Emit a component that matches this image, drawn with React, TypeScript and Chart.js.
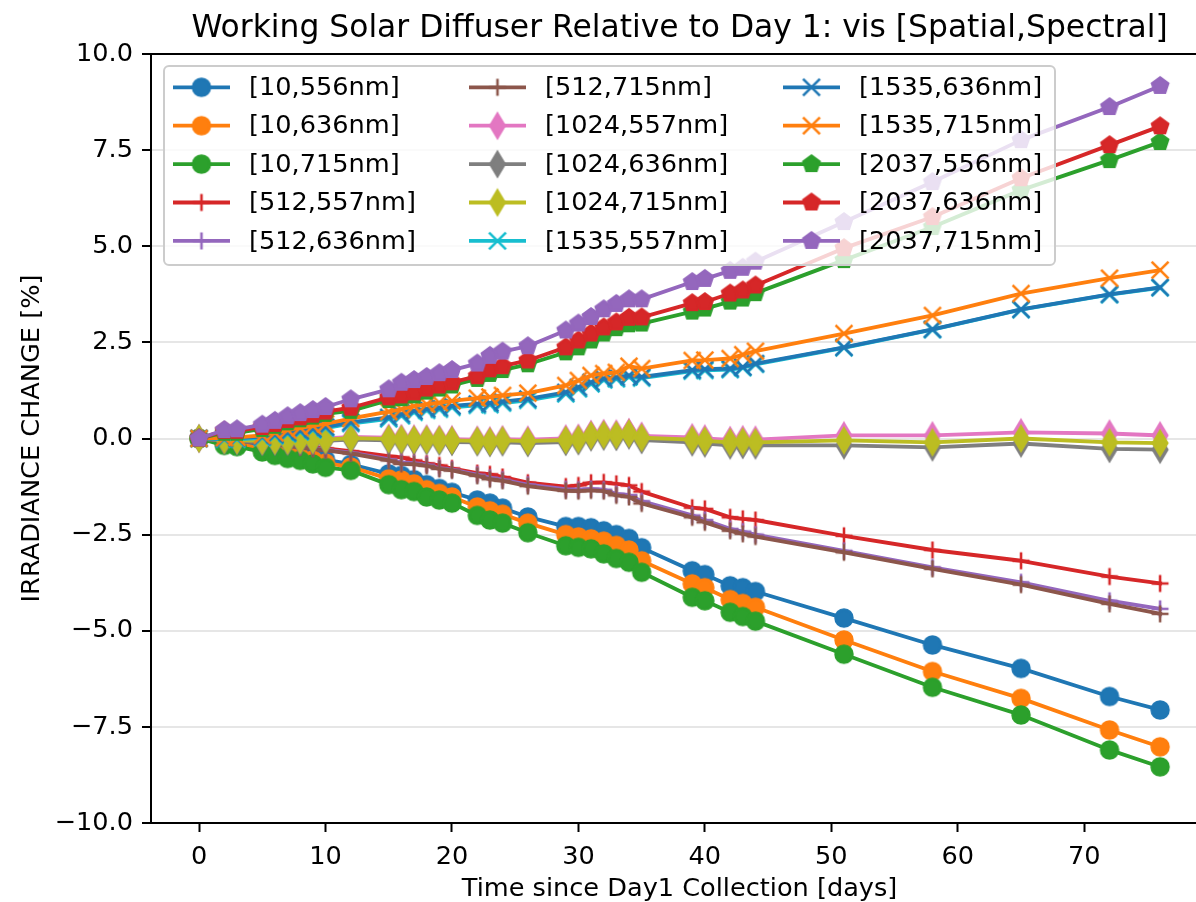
import React, { useEffect, useRef } from 'react';
import { Chart, registerables } from 'chart.js';

Chart.register(...registerables);

const days = [0, 2, 3, 5, 6, 7, 8, 9, 10, 12, 15, 16, 17, 18, 19, 20, 22, 23, 24, 26, 29, 30, 31, 32, 33, 34, 35, 39, 40, 42, 43, 44, 51, 58, 65, 72, 76];

const seriesLabels = [
  '[10,556nm]', '[10,636nm]', '[10,715nm]',
  '[512,557nm]', '[512,636nm]', '[512,715nm]',
  '[1024,557nm]', '[1024,636nm]', '[1024,715nm]',
  '[1535,557nm]', '[1535,636nm]', '[1535,715nm]',
  '[2037,556nm]', '[2037,636nm]', '[2037,715nm]',
];

const seriesColors = [
  '#1f77b4', '#ff7f0e', '#2ca02c', '#d62728', '#9467bd', '#8c564b', '#e377c2', '#7f7f7f',
  '#bcbd22', '#17becf', '#1f77b4', '#ff7f0e', '#2ca02c', '#d62728', '#9467bd',
];

const seriesMarkers = ['o', 'o', 'o', '+', '+', '+', 'd', 'd', 'd', 'x', 'x', 'x', 'p', 'p', 'p'];

const s10_556 = [0, -0.08, -0.1, -0.2, -0.27, -0.33, -0.4, -0.47, -0.55, -0.67, -0.92, -0.96, -1.07, -1.2, -1.3, -1.4, -1.6, -1.68, -1.81, -2.04, -2.29, -2.29, -2.32, -2.4, -2.5, -2.6, -2.84, -3.44, -3.54, -3.83, -3.88, -3.98, -4.67, -5.37, -5.98, -6.71, -7.06];
const s10_636 = [0, -0.12, -0.15, -0.26, -0.34, -0.41, -0.49, -0.56, -0.64, -0.74, -1.05, -1.08, -1.18, -1.33, -1.43, -1.52, -1.78, -1.88, -1.97, -2.2, -2.5, -2.56, -2.61, -2.67, -2.78, -2.9, -3.18, -3.78, -3.88, -4.19, -4.29, -4.39, -5.24, -6.06, -6.76, -7.58, -8.02];
const s10_715 = [0, -0.18, -0.21, -0.35, -0.44, -0.52, -0.57, -0.66, -0.75, -0.83, -1.2, -1.33, -1.38, -1.52, -1.6, -1.68, -2.0, -2.12, -2.2, -2.45, -2.79, -2.83, -2.87, -3.0, -3.12, -3.22, -3.48, -4.13, -4.22, -4.52, -4.63, -4.75, -5.61, -6.47, -7.19, -8.1, -8.54];
const s512_557 = [0, -0.02, -0.04, -0.08, -0.11, -0.14, -0.18, -0.22, -0.26, -0.33, -0.46, -0.49, -0.57, -0.65, -0.7, -0.78, -0.9, -0.93, -1.0, -1.15, -1.25, -1.22, -1.15, -1.14, -1.18, -1.22, -1.38, -1.8, -1.83, -2.05, -2.09, -2.12, -2.53, -2.9, -3.18, -3.59, -3.77];
const s512_636 = [0, -0.04, -0.06, -0.11, -0.14, -0.17, -0.21, -0.25, -0.29, -0.37, -0.54, -0.62, -0.64, -0.68, -0.77, -0.81, -0.94, -1.02, -1.07, -1.2, -1.32, -1.33, -1.31, -1.33, -1.44, -1.47, -1.63, -2.0, -2.12, -2.35, -2.42, -2.5, -2.92, -3.35, -3.74, -4.22, -4.43];
const s512_715 = [0, -0.05, -0.07, -0.12, -0.15, -0.19, -0.23, -0.27, -0.31, -0.39, -0.57, -0.66, -0.67, -0.71, -0.79, -0.83, -0.97, -1.06, -1.1, -1.24, -1.36, -1.37, -1.35, -1.37, -1.48, -1.52, -1.69, -2.05, -2.18, -2.4, -2.48, -2.55, -2.96, -3.39, -3.8, -4.3, -4.56];
const s1024_557 = [0, 0.0, -0.01, -0.03, -0.02, -0.02, -0.01, 0.0, 0.0, 0.04, 0.02, 0.01, 0.0, 0.0, -0.01, -0.02, -0.03, -0.05, -0.02, -0.03, 0.0, 0.02, 0.12, 0.14, 0.13, 0.17, 0.07, 0.03, 0.0, -0.04, -0.02, -0.03, 0.08, 0.08, 0.16, 0.13, 0.08];
const s1024_636 = [0, -0.06, -0.07, -0.09, -0.08, -0.08, -0.07, -0.06, -0.06, -0.03, -0.05, -0.06, -0.07, -0.07, -0.08, -0.09, -0.1, -0.12, -0.1, -0.12, -0.09, -0.07, 0.03, 0.05, 0.04, 0.08, -0.04, -0.1, -0.13, -0.18, -0.17, -0.18, -0.18, -0.23, -0.13, -0.27, -0.29];
const s1024_715 = [0, -0.03, -0.04, -0.06, -0.05, -0.05, -0.04, -0.03, -0.03, 0.01, -0.01, -0.02, -0.03, -0.03, -0.04, -0.05, -0.06, -0.08, -0.05, -0.07, -0.04, -0.02, 0.08, 0.1, 0.09, 0.13, 0.02, -0.03, -0.06, -0.1, -0.08, -0.1, -0.05, -0.1, 0.0, -0.1, -0.12];
const s1535_557 = [0, -0.02, -0.02, 0.02, 0.07, 0.12, 0.17, 0.22, 0.27, 0.39, 0.51, 0.59, 0.68, 0.73, 0.76, 0.81, 0.86, 0.88, 0.92, 0.99, 1.16, 1.29, 1.42, 1.52, 1.55, 1.6, 1.57, 1.75, 1.77, 1.79, 1.84, 1.93, 2.36, 2.83, 3.35, 3.74, 3.92];
const s1535_636 = [0, 0.0, 0.01, 0.05, 0.1, 0.15, 0.2, 0.25, 0.3, 0.42, 0.55, 0.63, 0.72, 0.77, 0.8, 0.85, 0.9, 0.92, 0.96, 1.03, 1.2, 1.33, 1.46, 1.56, 1.59, 1.64, 1.6, 1.78, 1.8, 1.82, 1.86, 1.95, 2.37, 2.84, 3.36, 3.75, 3.93];
const s1535_715 = [0, 0.02, 0.03, 0.08, 0.15, 0.22, 0.28, 0.33, 0.38, 0.52, 0.7, 0.76, 0.84, 0.89, 0.93, 0.98, 1.05, 1.08, 1.12, 1.18, 1.38, 1.51, 1.64, 1.69, 1.72, 1.88, 1.82, 2.03, 2.04, 2.08, 2.18, 2.27, 2.73, 3.2, 3.77, 4.17, 4.38];
const s2037_556 = [0, 0.15, 0.15, 0.25, 0.33, 0.42, 0.5, 0.57, 0.64, 0.72, 1.0, 1.05, 1.12, 1.22, 1.3, 1.38, 1.55, 1.68, 1.78, 1.93, 2.24, 2.37, 2.55, 2.73, 2.87, 2.97, 2.99, 3.3, 3.38, 3.56, 3.64, 3.78, 4.64, 5.5, 6.46, 7.24, 7.71];
const s2037_636 = [0, 0.2, 0.2, 0.3, 0.38, 0.48, 0.55, 0.62, 0.7, 0.8, 1.07, 1.12, 1.2, 1.3, 1.38, 1.46, 1.62, 1.8, 1.88, 2.03, 2.37, 2.55, 2.73, 2.89, 3.02, 3.14, 3.15, 3.52, 3.55, 3.77, 3.85, 3.98, 4.95, 5.76, 6.77, 7.63, 8.12];
const s2037_715 = [0, 0.22, 0.24, 0.36, 0.46, 0.58, 0.66, 0.74, 0.82, 1.02, 1.28, 1.45, 1.52, 1.6, 1.7, 1.78, 1.95, 2.15, 2.26, 2.4, 2.81, 2.99, 3.16, 3.36, 3.5, 3.62, 3.62, 4.07, 4.15, 4.36, 4.44, 4.6, 5.63, 6.67, 7.76, 8.62, 9.17];

const seriesValues = [
  s10_556, s10_636, s10_715, s512_557, s512_636, s512_715, s1024_557, s1024_636, s1024_715,
  s1535_557, s1535_636, s1535_715, s2037_556, s2037_636, s2037_715,
];

const xTickValues = [0, 10, 20, 30, 40, 50, 60, 70];
const xTickLabels = ['0', '10', '20', '30', '40', '50', '60', '70'];
const yTickValues = [-10, -7.5, -5, -2.5, 0, 2.5, 5, 7.5, 10];
const yTickLabels = ['\u221210.0', '\u22127.5', '\u22125.0', '\u22122.5', '0.0', '2.5', '5.0', '7.5', '10.0'];

const TITLE = 'Working Solar Diffuser Relative to Day 1: vis [Spatial,Spectral]';
const X_TITLE = 'Time since Day1 Collection [days]';
const Y_TITLE = 'IRRADIANCE CHANGE [%]';

const FAMILY = 'DejaVu Sans';
const PT = 2.56; // pixels per point
const FS = 10 * PT;
const TITLE_FS = 12.25 * PT;
const LINE_W = 1.5 * PT;
const MS = 6.6 * PT;
const MEW = 1 * PT;

function makeMarker(shape: string, color: string): HTMLCanvasElement {
  const size = 36;
  const c = document.createElement('canvas');
  c.width = size;
  c.height = size;
  const ctx = c.getContext('2d')!;
  const cx = size / 2;
  const cy = size / 2;
  ctx.strokeStyle = color;
  ctx.fillStyle = color;
  ctx.lineWidth = MEW;
  ctx.lineJoin = 'miter';
  ctx.lineCap = 'butt';
  ctx.beginPath();
  const h = MS / 2;
  if (shape === 'o') {
    ctx.arc(cx, cy, h, 0, Math.PI * 2);
    ctx.fill();
    ctx.stroke();
  } else if (shape === '+') {
    ctx.moveTo(cx - h, cy);
    ctx.lineTo(cx + h, cy);
    ctx.moveTo(cx, cy - h);
    ctx.lineTo(cx, cy + h);
    ctx.stroke();
  } else if (shape === 'x') {
    ctx.moveTo(cx - h, cy - h);
    ctx.lineTo(cx + h, cy + h);
    ctx.moveTo(cx - h, cy + h);
    ctx.lineTo(cx + h, cy - h);
    ctx.stroke();
  } else if (shape === 'd') {
    const dh = MS * Math.SQRT2 / 2;
    const dw = 0.6 * dh;
    ctx.moveTo(cx, cy - dh);
    ctx.lineTo(cx + dw, cy);
    ctx.lineTo(cx, cy + dh);
    ctx.lineTo(cx - dw, cy);
    ctx.closePath();
    ctx.fill();
    ctx.stroke();
  } else if (shape === 'p') {
    for (let k = 0; k < 5; k++) {
      const a = -Math.PI / 2 + (k * 2 * Math.PI) / 5;
      const px = cx + h * Math.cos(a);
      const py = cy + h * Math.sin(a);
      if (k === 0) ctx.moveTo(px, py);
      else ctx.lineTo(px, py);
    }
    ctx.closePath();
    ctx.fill();
    ctx.stroke();
  }
  return c;
}

function makeDecorPlugin(markers: HTMLCanvasElement[]) {
  return {
    id: 'decor',
    afterDatasetsDraw(chart: any) {
      const { ctx, chartArea: a } = chart;
      ctx.save();
      // top and right spines
      ctx.strokeStyle = '#000';
      ctx.lineWidth = 2;
      ctx.beginPath();
      ctx.moveTo(a.left - 1, a.top);
      ctx.lineTo(a.right + 1, a.top);
      ctx.moveTo(a.right, a.top);
      ctx.lineTo(a.right, a.bottom);
      ctx.stroke();

      // legend (3 columns, column-major like matplotlib)
      const bx = a.left + 13;
      const by = a.top + 12;
      const bw = 891;
      const bh = 199;
      const r = 5;
      ctx.beginPath();
      ctx.moveTo(bx + r, by);
      ctx.lineTo(bx + bw - r, by);
      ctx.arcTo(bx + bw, by, bx + bw, by + r, r);
      ctx.lineTo(bx + bw, by + bh - r);
      ctx.arcTo(bx + bw, by + bh, bx + bw - r, by + bh, r);
      ctx.lineTo(bx + r, by + bh);
      ctx.arcTo(bx, by + bh, bx, by + bh - r, r);
      ctx.lineTo(bx, by + r);
      ctx.arcTo(bx, by, bx + r, by, r);
      ctx.closePath();
      ctx.fillStyle = 'rgba(255,255,255,0.8)';
      ctx.fill();
      ctx.strokeStyle = '#cccccc';
      ctx.lineWidth = 2;
      ctx.stroke();

      const colX = [9, 305, 619];
      const rowH = 38.4;
      const row0 = 21.3;
      const handleLen = 57;
      const textGap = 76;
      ctx.font = `${FS}px "${FAMILY}"`;
      ctx.textBaseline = 'middle';
      ctx.textAlign = 'left';
      seriesLabels.forEach((label, i) => {
        const col = Math.floor(i / 5);
        const row = i % 5;
        const x0 = bx + colX[col];
        const y0 = by + row0 + row * rowH;
        ctx.strokeStyle = seriesColors[i];
        ctx.lineWidth = LINE_W;
        ctx.lineCap = 'butt';
        ctx.beginPath();
        ctx.moveTo(x0, y0);
        ctx.lineTo(x0 + handleLen, y0);
        ctx.stroke();
        const m = markers[i];
        ctx.drawImage(m, x0 + handleLen / 2 - m.width / 2, y0 - m.height / 2);
        ctx.fillStyle = '#000';
        ctx.fillText(label, x0 + textGap, y0 + 1);
      });
      ctx.restore();
    },
  };
}

export default function App() {
  const ref = useRef<HTMLCanvasElement>(null);

  useEffect(() => {
    const canvas = ref.current!;
    const markers = seriesMarkers.map((m, i) => makeMarker(m, seriesColors[i]));
    const font = { family: FAMILY, size: FS, weight: 'normal' as const };
    const chart = new Chart(canvas, {
      type: 'line',
      data: {
        datasets: seriesLabels.map((label, i) => ({
          label,
          data: days.map((d, j) => ({ x: d, y: seriesValues[i][j] })),
          borderColor: seriesColors[i],
          backgroundColor: seriesColors[i],
          borderWidth: LINE_W,
          pointStyle: markers[i],
          pointRadius: 8,
          pointHoverRadius: 8,
          tension: 0,
          fill: false,
          order: seriesLabels.length - i,
          borderJoinStyle: 'round',
          borderCapStyle: 'square',
        })),
      },
      options: {
        responsive: false,
        animation: false,
        devicePixelRatio: 1,
        events: [],
        layout: { padding: { left: 0, right: 11, top: 0, bottom: 0 } },
        plugins: {
          legend: { display: false },
          tooltip: { enabled: false },
          title: {
            display: true,
            text: TITLE,
            color: '#000',
            font: { family: FAMILY, size: TITLE_FS, weight: 'normal', lineHeight: 1.2 },
            padding: { top: 10, bottom: 54 - 10 - TITLE_FS * 1.2 },
            fullSize: false,
          },
        },
        scales: {
          x: {
            type: 'linear',
            min: -3.8,
            max: 79.8,
            afterBuildTicks: (s: any) => {
              s.ticks = xTickValues.map((v) => ({ value: v }));
            },
            afterFit: (s: any) => {
              s.height = 79;
            },
            ticks: {
              font,
              color: '#000',
              padding: 10,
              maxRotation: 0,
              autoSkip: false,
              callback: (_v: any, idx: number) => xTickLabels[idx],
            },
            grid: {
              drawOnChartArea: false,
              drawTicks: true,
              tickLength: 9,
              tickWidth: 2,
              tickColor: '#000',
            },
            border: { display: true, color: '#000', width: 2 },
            title: {
              display: true,
              text: X_TITLE,
              color: '#000',
              font: { family: FAMILY, size: FS, weight: 'normal', lineHeight: 1.0 },
              padding: { top: 0, bottom: 0 },
            },
          },
          y: {
            type: 'linear',
            min: -10,
            max: 10,
            afterBuildTicks: (s: any) => {
              s.ticks = yTickValues.map((v) => ({ value: v }));
            },
            afterFit: (s: any) => {
              s.width = 151;
            },
            ticks: {
              font,
              color: '#000',
              padding: 9,
              autoSkip: false,
              callback: (_v: any, idx: number) => yTickLabels[idx],
            },
            grid: {
              color: '#e6e6e6',
              lineWidth: 2,
              drawTicks: true,
              tickLength: 9,
              tickWidth: 2,
              tickColor: '#000',
            },
            border: { display: true, color: '#000', width: 2 },
            title: {
              display: true,
              text: Y_TITLE,
              color: '#000',
              font,
              padding: { top: 17, bottom: 0 },
            },
          },
        },
      },
      plugins: [makeDecorPlugin(markers)],
    } as any);
    return () => chart.destroy();
  }, []);

  return (
    <div
      style={{
        position: 'fixed',
        left: 0,
        top: 0,
        width: 1196,
        height: 902,
        overflow: 'hidden',
        background: '#fff',
      }}
    >
      <canvas ref={ref} width={1220} height={902} style={{ display: 'block', width: 1220, height: 902 }} />
    </div>
  );
}
